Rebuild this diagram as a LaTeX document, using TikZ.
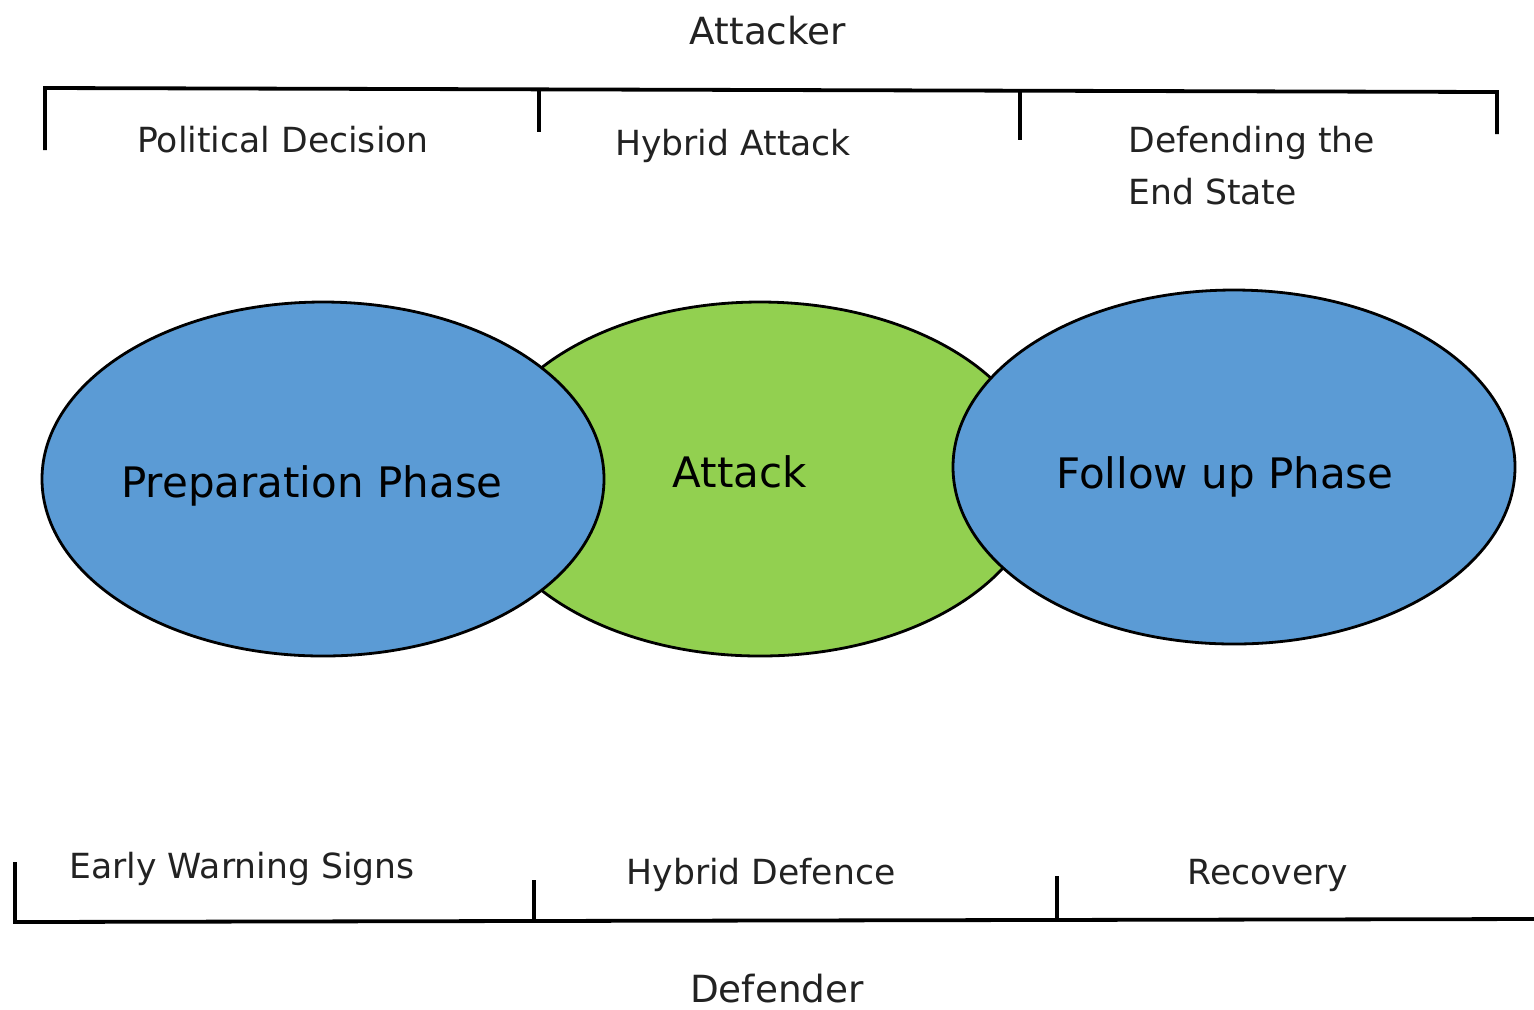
\documentclass[tikz,border=0pt]{standalone}
\usepackage{fontspec}
\setmainfont{DejaVu Sans}
\usetikzlibrary{shapes.geometric}
\definecolor{phaseblue}{HTML}{5B9BD5}
\definecolor{phasegreen}{HTML}{92D050}
\definecolor{inkgray}{HTML}{222222}
\tikzset{
  phase/.style={ellipse, draw=black, line width=1.4pt, inner sep=0pt,
    minimum width=281pt, minimum height=177pt},
  phasetext/.style={anchor=base, text=black, inner sep=0pt, font=\fontsize{21}{25}\selectfont},
  bracket/.style={draw=black, line width=1.9pt, line cap=butt, line join=miter},
  label/.style={anchor=base, text=inkgray, inner sep=0pt, font=\fontsize{17.3}{26}\selectfont},
  side/.style={anchor=base, text=inkgray, inner sep=0pt, font=\fontsize{18.7}{22}\selectfont},
}
\begin{document}
\begin{tikzpicture}[x=0.5pt,y=-0.5pt]
\useasboundingbox (0,0) rectangle (1534,1009);

% the three phases; the blue ones lie over the green one
\node[phase, fill=phasegreen] (attack) at (760,479) {};
\node[phase, fill=phaseblue] (prep) at (323,479) {};
\node[phase, fill=phaseblue] (follow) at (1234,467) {};
\node[phasetext] (preptxt) at (312,497) {Preparation Phase};
\node[phasetext] (attacktxt) at (740,487) {Attack};
\node[phasetext] (followtxt) at (1225,488) {Follow up Phase};

% attacker bracket
\coordinate (tl) at (45,88);
\coordinate (tr) at (1497,92);
\draw[bracket] (45,150) -- (tl) -- (tr) -- (1497,134);
\draw[bracket] (539,89) -- (539,132);
\draw[bracket] (1020,90) -- (1020,140);
\node[side] (attacker) at (768,44) {Attacker};
\node[label] (political) at (283,152) {Political Decision};
\node[label] (hybridatt) at (733,155) {Hybrid Attack};
\node[label, anchor=base west] (endstate1) at (1128,152) {Defending the};
\node[label, anchor=base west] (endstate2) at (1128,204) {End State};

% defender bracket
\coordinate (bl) at (15,922);
\coordinate (br) at (1534,919);
\draw[bracket] (15,862) -- (bl) -- (br);
\draw[bracket] (534,880) -- (534,921);
\draw[bracket] (1057,876) -- (1057,919);
\node[label] (early) at (242,878) {Early Warning Signs};
\node[label] (hybriddef) at (761,884) {Hybrid Defence};
\node[label] (recovery) at (1268,884) {Recovery};
\node[side] (defender) at (777,1002) {Defender};
\end{tikzpicture}
\end{document}
